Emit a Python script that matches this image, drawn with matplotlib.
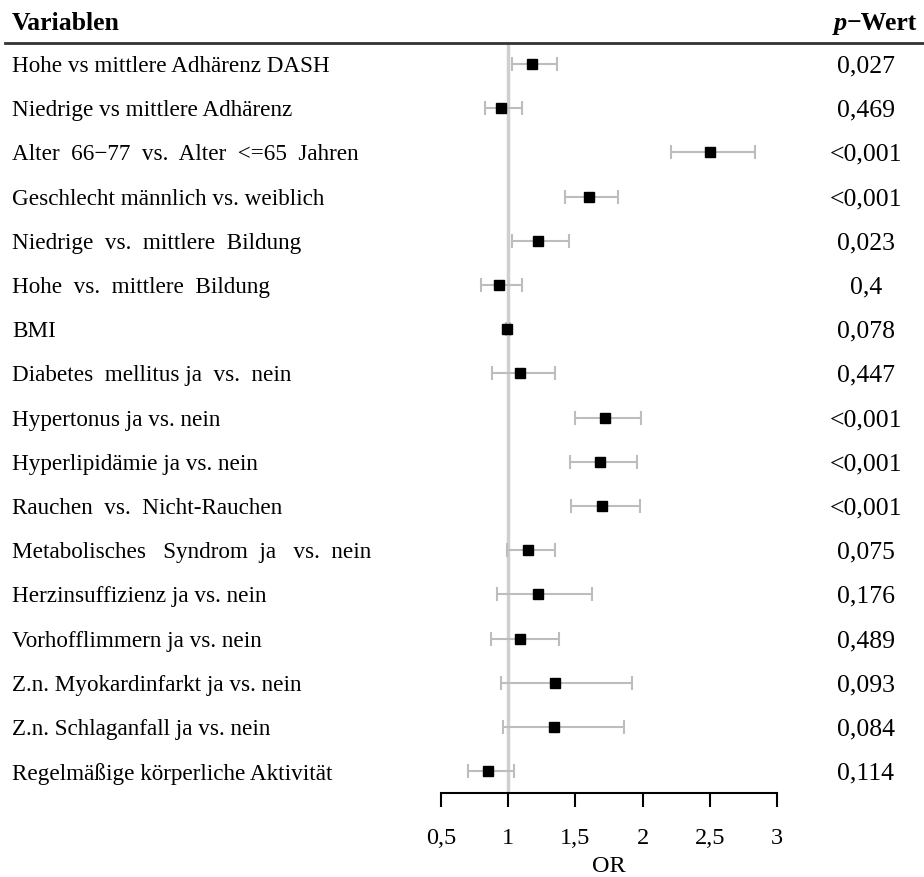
import matplotlib
matplotlib.use("Agg")
import matplotlib.pyplot as plt
from matplotlib.lines import Line2D
from matplotlib.transforms import blended_transform_factory

plt.rcParams['font.family'] = ['Liberation Serif', 'DejaVu Serif']

# Data
variables = [
    "Hohe vs mittlere Adhärenz DASH",
    "Niedrige vs mittlere Adhärenz",
    "Alter  66\u221277  vs.  Alter  <=65  Jahren",
    "Geschlecht männlich vs. weiblich",
    "Niedrige  vs.  mittlere  Bildung",
    "Hohe  vs.  mittlere  Bildung",
    "BMI",
    "Diabetes  mellitus ja  vs.  nein",
    "Hypertonus ja vs. nein",
    "Hyperlipidämie ja vs. nein",
    "Rauchen  vs.  Nicht-Rauchen",
    "Metabolisches   Syndrom  ja   vs.  nein",
    "Herzinsuffizienz ja vs. nein",
    "Vorhofflimmern ja vs. nein",
    "Z.n. Myokardinfarkt ja vs. nein",
    "Z.n. Schlaganfall ja vs. nein",
    "Regelmäßige körperliche Aktivität",
]
odds_ratio = [1.18, 0.95, 2.50, 1.60, 1.22, 0.93, 0.99, 1.09, 1.72, 1.68, 1.70,
              1.15, 1.22, 1.09, 1.35, 1.34, 0.85]
ci_low = [1.03, 0.83, 2.21, 1.42, 1.03, 0.80, 0.98, 0.88, 1.50, 1.46, 1.47,
          0.99, 0.92, 0.87, 0.95, 0.96, 0.70]
ci_high = [1.36, 1.10, 2.84, 1.82, 1.45, 1.10, 1.01, 1.35, 1.99, 1.96, 1.98,
           1.35, 1.62, 1.38, 1.92, 1.86, 1.04]
p_values = ["0,027", "0,469", "<0,001", "<0,001", "0,023", "0,4", "0,078", "0,447",
            "<0,001", "<0,001", "<0,001", "0,075", "0,176", "0,489", "0,093", "0,084",
            "0,114"]
x_ticks = [0.5, 1, 1.5, 2, 2.5, 3]
x_tick_labels = ["0,5", "1", "1,5", "2", "2,5", "3"]

W, H = 924, 877
fig = plt.figure(figsize=(W / 100, H / 100), dpi=100)

ax = fig.add_axes([441 / W, 1 - 793 / H, 336 / W, (793 - 43) / H])
rows = list(range(len(variables)))
ax.set_xlim(0.5, 3)
ax.set_ylim((793 - 64) / 44.2, -(64 - 43) / 44.2)

ax.axvline(1, color='#cfcfcf', lw=2.5, zorder=1)
err = [[o - l for o, l in zip(odds_ratio, ci_low)],
       [h - o for o, h in zip(odds_ratio, ci_high)]]
ax.errorbar(odds_ratio, rows, xerr=err, fmt='none', ecolor='#bdbdbd',
            elinewidth=1.5, capsize=5, capthick=1.5, zorder=2)
ax.plot(odds_ratio, rows, 's', color='black', markersize=7.8, zorder=3)

for s in ['top', 'right', 'left']:
    ax.spines[s].set_visible(False)
ax.spines['bottom'].set_linewidth(1.5)
ax.set_yticks([])
ax.set_xticks(x_ticks)
ax.set_xticklabels(x_tick_labels, fontsize=17.5)
ax.tick_params(axis='x', direction='out', length=10, width=1.5, pad=15)
ax.set_xlabel("OR", fontsize=17.5, labelpad=5.5)

tr = blended_transform_factory(fig.transFigure, ax.transData)
for i, (name, p) in enumerate(zip(variables, p_values)):
    ax.text(12 / W, i, name, transform=tr, ha='left', va='center_baseline',
            fontsize=16.7, clip_on=False)
    ax.text(866 / W, i, p, transform=tr, ha='center', va='center_baseline',
            fontsize=18.5, clip_on=False)

# header
fig.text(12 / W, 1 - 21 / H, "Variablen", fontsize=18.5, fontweight='bold',
         ha='left', va='center_baseline')
wert = fig.text(917 / W, 1 - 21 / H, "\u2212Wert", fontsize=18.5, fontweight='bold',
                ha='right', va='center_baseline')
renderer = fig.canvas.get_renderer()
left_px = wert.get_window_extent(renderer).x0
fig.text(left_px / W, 1 - 21 / H, "p", fontsize=19, fontweight='bold',
         fontstyle='italic', ha='right', va='center_baseline')
fig.add_artist(Line2D([5 / W, 1], [1 - 42.5 / H, 1 - 42.5 / H],
                      transform=fig.transFigure, color='#333333', lw=2))

fig.savefig("out.png", dpi=100)
